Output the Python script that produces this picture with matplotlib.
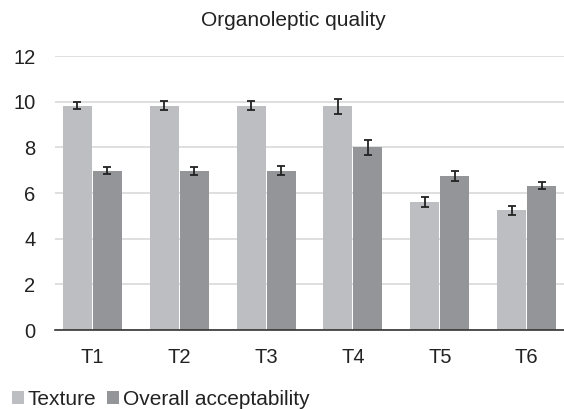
import matplotlib
matplotlib.use("Agg")
import matplotlib.pyplot as plt
import numpy as np

categories = ["T1", "T2", "T3", "T4", "T5", "T6"]
texture = [9.82, 9.82, 9.82, 9.8, 5.62, 5.25]
texture_err = [0.15, 0.2, 0.2, 0.32, 0.22, 0.2]
overall = [6.97, 6.97, 6.97, 8.0, 6.75, 6.33]
overall_err = [0.15, 0.17, 0.2, 0.32, 0.22, 0.17]

plt.rcParams['font.family'] = ['Liberation Sans', 'DejaVu Sans']

fig = plt.figure(figsize=(5.64, 4.09), dpi=100)
ax = fig.add_axes([0.0975, 0.193, 0.9025, 0.670])

x = np.arange(len(categories))
w = 0.333
ekw = dict(ecolor="#222222", elinewidth=1.3, capsize=3.2, capthick=1.3)
b1 = ax.bar(x - w/2 - 0.006, texture, w, yerr=texture_err, color="#BDBEC1",
            label="Texture", error_kw=ekw, zorder=2)
b2 = ax.bar(x + w/2 + 0.006, overall, w, yerr=overall_err, color="#949598",
            label="Overall acceptability", error_kw=ekw, zorder=2)

ax.set_ylim(0, 12)
ax.set_yticks(range(0, 13, 2))
ax.set_xlim(-0.43, 5.43)
ax.set_xticks(x)
ax.set_xticklabels(categories)
ax.tick_params(axis='both', length=0, labelsize=14.5, colors="#222222")
ax.tick_params(axis='x', pad=13)
ax.tick_params(axis='y', pad=14)
ax.yaxis.grid(True, color="#D9D9D9", linewidth=1.2, zorder=0)
ax.set_axisbelow(True)
for s in ["left", "right", "top"]:
    ax.spines[s].set_visible(False)
ax.spines["bottom"].set_color("#333333")
ax.spines["bottom"].set_linewidth(1.2)

fig.text(0.52, 0.951, "Organoleptic quality", ha="center", va="center",
         fontsize=15, color="#222222")

fig.legend(handles=[b1, b2], loc="center left", bbox_to_anchor=(0.021, 0.023),
           ncol=2, frameon=False, fontsize=15, handlelength=0.58, handleheight=0.56,
           handletextpad=0.19, columnspacing=0.48, borderpad=0, borderaxespad=0,
           labelcolor="#222222")

fig.savefig("out.png", dpi=100)
